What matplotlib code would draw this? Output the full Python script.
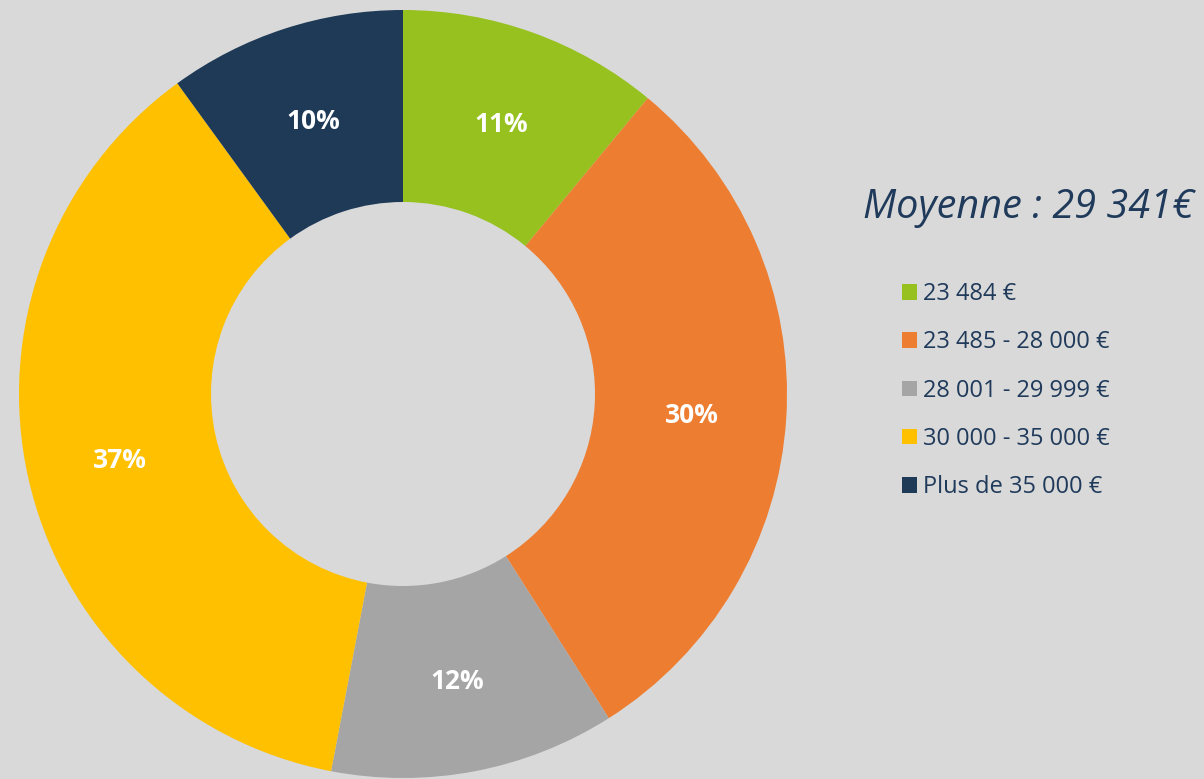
import matplotlib.pyplot as plt

plt.rcParams["font.family"] = ["Open Sans", "DejaVu Sans"]

# Data
categories = ["23 484 €", "23 485 - 28 000 €", "28 001 - 29 999 €",
              "30 000 - 35 000 €", "Plus de 35 000 €"]
shares = [11, 30, 12, 37, 10]
colors = ["#96C11F", "#ED7D31", "#A5A5A5", "#FFC000", "#1E3A56"]
title = "Moyenne : 29 341€"

BG = "#D9D9D9"
TEXT = "#1F3A5A"

fig = plt.figure(figsize=(12.04, 7.79), dpi=100, facecolor=BG)
W, H = 1204, 779
cx, cy, r = 403, 394, 384
ax = fig.add_axes([(cx - r) / W, (H - cy - r) / H, 2 * r / W, 2 * r / H])
ax.set_facecolor(BG)

wedges, _, autotexts = ax.pie(
    shares, colors=colors, startangle=90, counterclock=False,
    radius=1.0, autopct="%d%%", pctdistance=0.755,
    wedgeprops=dict(width=0.5, linewidth=0),
    textprops=dict(color="white", fontsize=19, fontweight="bold"),
)
for t in autotexts:
    t.set_va("center_baseline")
ax.set_xlim(-1, 1)
ax.set_ylim(-1, 1)
ax.set_aspect("equal")
ax.axis("off")

fig.text(1028 / W, 1 - 208 / H, title, ha="center", va="center",
         fontsize=28.5, style="italic", color=TEXT)

leg = fig.legend(
    wedges, categories, loc="upper left",
    bbox_to_anchor=(902 / W, 1 - 282 / H),
    frameon=False, fontsize=17, labelcolor=TEXT,
    handlelength=0.64, handleheight=0.64, handletextpad=0.25,
    labelspacing=1.03, borderpad=0, borderaxespad=0,
)

fig.savefig("out.png", dpi=100, facecolor=BG)
